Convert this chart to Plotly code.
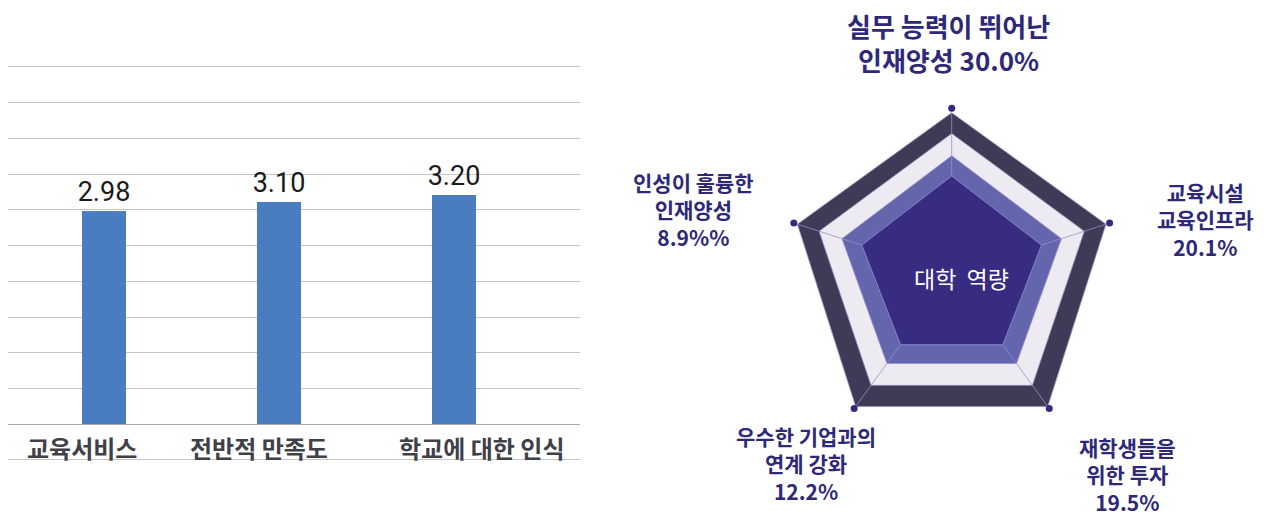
import plotly.graph_objects as go

# ---------------- data ----------------
bar_categories = ["교육서비스", "전반적 만족도", "학교에 대한 인식"]
bar_values = [2.98, 3.10, 3.20]

radar_names = ["실무 능력이 뛰어난<br>인재양성", "교육시설<br>교육인프라", "재학생들을<br>위한 투자",
               "우수한 기업과의<br>연계 강화", "인성이 훌륭한<br>인재양성"]
radar_values = [30.0, 20.1, 19.5, 12.2, 8.9]
radar_suffix = ["%", "%", "%", "%", "%%"]
radar_center_text = "대학  역량"

# decorative band levels of the pentagon (relative radius per axis)
band_outer = [0.973, 0.977, 0.984, 0.984, 0.977]
band_light = [0.848, 0.840, 0.827, 0.827, 0.840]
band_mid = [0.714, 0.695, 0.664, 0.664, 0.695]
band_inner = [0.592, 0.569, 0.524, 0.524, 0.569]
axis_angles = [0, 72, 144, 216, 288]

# page has an 8px body margin -> figure is placed at (8, 8)
OFF = 8
W, H = 1264 - OFF, 518 - OFF
KR = "Noto Sans CJK KR"


def fx(px):
    return (px - OFF) / W


def fy(py):
    return 1 - (py - OFF) / H


fig = go.Figure()

# ---------------- bar chart ----------------
fig.add_trace(go.Bar(
    x=bar_categories, y=bar_values,
    width=0.25,
    marker=dict(color="#4a7dbf", line=dict(width=0)),
    text=[f"{v:.2f}" for v in bar_values],
    textposition="outside",
    constraintext="none",
    cliponaxis=False,
    textfont=dict(family="Roboto", size=27, color="#1a1a1a"),
    hoverinfo="skip",
    showlegend=False,
))

label_shift = [-22, -20, 28]
for cat, dx in zip(bar_categories, label_shift):
    fig.add_annotation(x=cat, y=-0.33, xref="x", yref="y", text=cat, showarrow=False,
                       xshift=dx, xanchor="center", yanchor="middle",
                       font=dict(family=KR, size=24, color="#404048", weight="bold"))

# ---------------- radar decoration ----------------
def closed(vals):
    return list(vals) + [vals[0]]


th = closed(axis_angles)
for r, col in [(band_outer, "#3f3b56"), (band_light, "#edebf1"),
               (band_mid, "#6466ad"), (band_inner, "#382c82")]:
    fig.add_trace(go.Scatterpolar(r=closed(r), theta=th, fill="toself", fillcolor=col,
                                  mode="lines", line=dict(color="#9690c8", width=0.8),
                                  hoverinfo="skip", showlegend=False))
for a, r0 in zip(axis_angles, band_inner):
    fig.add_trace(go.Scatterpolar(r=[r0, 1], theta=[a, a], mode="lines",
                                  line=dict(color="#9690c8", width=0.8),
                                  hoverinfo="skip", showlegend=False))
fig.add_trace(go.Scatterpolar(r=[1] * 5, theta=axis_angles, mode="markers",
                              marker=dict(color="#332a80", size=7),
                              hoverinfo="skip", showlegend=False))

cx, cy, R = 951.7, 274.3, 166
fig.update_layout(polar=dict(
    domain=dict(x=[fx(cx - R), fx(cx + R)], y=[fy(cy + R), fy(cy - R)]),
    bgcolor="rgba(0,0,0,0)",
    radialaxis=dict(visible=False, range=[0, 1]),
    angularaxis=dict(visible=False, rotation=90, direction="clockwise", thetaunit="degrees"),
))

fig.add_annotation(x=fx(961.7), y=fy(277.5), xref="paper", yref="paper",
                   text=radar_center_text, showarrow=False, xanchor="center", yanchor="middle",
                   font=dict(family=KR, size=23, color="white"))

# label placements (pixel centers of each text block)
label_pos = [(948.5, 42.2), (1205.8, 219.8), (1127, 474), (806, 463.7), (693, 209.2)]
label_size = [26, 21, 21, 21, 21]
for i, (name, val, suf) in enumerate(zip(radar_names, radar_values, radar_suffix)):
    sep = " " if i == 0 else "<br>"
    txt = f"{name}{sep}{val:.1f}{suf}"
    px, py = label_pos[i]
    fig.add_annotation(x=fx(px), y=fy(py), xref="paper", yref="paper", text=txt,
                       showarrow=False, xanchor="center", yanchor="middle", align="center",
                       font=dict(family=KR, size=label_size[i], color="#2e2878", weight="bold"))

# ---------------- axes / layout ----------------
# y: -0.5 -> 460px, 5 -> 67px ; padded by 0.05 units so edge gridlines are drawn
ppu = (460 - 67) / 5.5
pad = 0.05
y_top_px = 67 - pad * ppu
y_bot_px = 460 + pad * ppu
# x: categories spaced 175px, first at 103.8px, plot ends at 580px
x_left_px, x_right_px = OFF, 580
x0 = (x_left_px - 103.8) / 175
x1 = (x_right_px - 103.8) / 175

fig.update_layout(
    width=W, height=H,
    margin=dict(l=0, r=0, t=0, b=0),
    paper_bgcolor="white", plot_bgcolor="white",
    bargap=0,
    xaxis=dict(domain=[fx(x_left_px), fx(x_right_px)], range=[x0, x1], showticklabels=False,
               showgrid=False, zeroline=False, ticks="", fixedrange=True),
    yaxis=dict(domain=[fy(y_bot_px), fy(y_top_px)], range=[-0.5 - pad, 5 + pad],
               dtick=0.5, tick0=0,
               showticklabels=False, showgrid=True, gridcolor="#c4c4c4", gridwidth=1,
               zeroline=True, zerolinecolor="#a8a8a8", zerolinewidth=1.2,
               ticks="", fixedrange=True),
)

fig.write_html("out.html")
